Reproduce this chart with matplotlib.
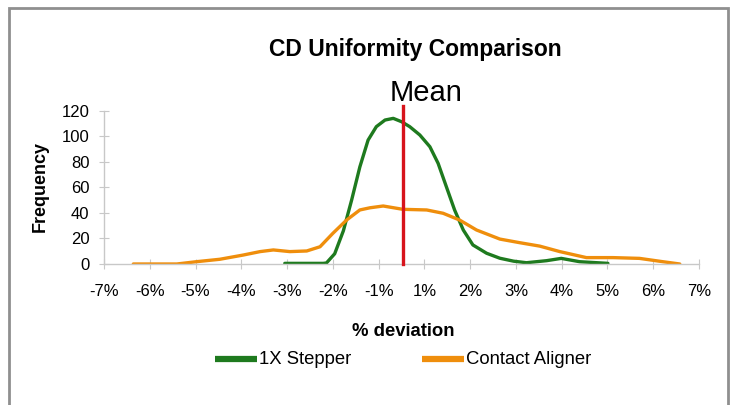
import matplotlib
matplotlib.use('Agg')
import matplotlib.pyplot as plt
from matplotlib.patches import Rectangle

plt.rcParams['font.family'] = ['Liberation Sans', 'DejaVu Sans']

# x positions are in tick-slot units: 0 -> "-7%", 13 -> "7%"
tick_labels = ['-7%', '-6%', '-5%', '-4%', '-3%', '-2%', '-1%',
               '1%', '2%', '3%', '4%', '5%', '6%', '7%']

stepper_x = [3.95, 4.79, 4.86, 5.04, 5.23, 5.41, 5.59, 5.77, 5.95, 6.14, 6.32,
             6.50, 6.68, 6.90, 7.12, 7.30, 7.48, 7.66, 7.85, 8.06, 8.36, 8.65,
             8.95, 9.23, 9.67, 9.99, 10.39, 11.01]
stepper_y = [0.5, 0.5, 0.8, 8, 26, 50, 76, 97, 107.5, 112.7, 114,
             111.4, 107.5, 101, 91.8, 78.8, 60.5, 42.3, 26.6, 14.9, 8.4, 4.5,
             2.2, 1, 2.6, 4.4, 1.8, 0.5]

aligner_x = [0.64, 1.59, 2.02, 2.53, 3.04, 3.41, 3.70, 4.06, 4.43, 4.72, 5.0,
             5.30, 5.59, 5.81, 6.10, 6.53, 7.05, 7.41, 7.77, 8.14, 8.65, 9.08,
             9.52, 9.96, 10.54, 11.12, 11.70, 12.21, 12.58]
aligner_y = [0, 0, 1.8, 3.7, 7, 9.7, 11, 9.7, 10.2, 13.5, 24,
             34.4, 42.3, 44, 45.4, 42.8, 42.3, 39.7, 34.4, 26.6, 19.5, 16.7,
             14, 9.7, 5, 5, 4.4, 1.8, 0]

mean_x = 6.53

W, H = 735, 405
fig = plt.figure(figsize=(W / 100, H / 100), dpi=100)
fig.patch.set_facecolor('white')

# gray outer frame (bottom edge is cut off in the reference)
fig.patches.append(Rectangle((9 / W, -0.05), (728 - 9) / W, 1 - 8 / H + 0.05,
                             transform=fig.transFigure, fill=False,
                             edgecolor='#8f8f8f', linewidth=2.0))

ax = fig.add_axes([104 / W, 1 - 264 / H, 595 / W, (264 - 110.7) / H])
ax.plot(stepper_x, stepper_y, color='#1e7a1e', linewidth=2.4,
        solid_joinstyle='round', solid_capstyle='round', label='1X Stepper')
ax.plot(aligner_x, aligner_y, color='#ef8e0c', linewidth=2.4,
        solid_joinstyle='round', solid_capstyle='round', label='Contact Aligner')
ax.plot([mean_x, mean_x], [0, 123.5], color='#d7141c', linewidth=2.4,
        clip_on=False, zorder=5)

ax.set_xlim(0, 13)
ax.set_ylim(0, 120)
ax.set_xticks(range(len(tick_labels)))
ax.set_xticklabels(tick_labels)
ax.set_yticks(range(0, 121, 20))
for s in ['top', 'right']:
    ax.spines[s].set_visible(False)
for s in ['left', 'bottom']:
    ax.spines[s].set_color('#c8c8c8')
    ax.spines[s].set_linewidth(1.0)
ax.tick_params(axis='both', direction='inout', length=7, color='#c8c8c8',
               labelsize=12, labelcolor='black')
ax.tick_params(axis='x', pad=11)
ax.tick_params(axis='y', pad=7)

fig.text(415 / W, 1 - 56 / H, 'CD Uniformity Comparison', ha='center',
         va='baseline', fontsize=16.5, fontweight='bold')
fig.text(426 / W, 1 - 101 / H, 'Mean', ha='center', va='baseline',
         fontsize=21)
fig.text(40 / W, 1 - 187 / H, 'Frequency', ha='center', va='center',
         rotation=90, fontsize=13, fontweight='bold')
fig.text(403 / W, 1 - 336 / H, '% deviation', ha='center', va='baseline',
         fontsize=13.3, fontweight='bold')

fig.legend(loc='center', bbox_to_anchor=(403 / W, 1 - 360 / H), ncol=2,
           frameon=False, fontsize=13.3, handlelength=2.3, handletextpad=0.1,
           columnspacing=3.8, handleheight=0.5)
for line in fig.legends[0].get_lines():
    line.set_linewidth(4.5)
    line.set_solid_capstyle('butt')

fig.savefig('out.png', dpi=100)
